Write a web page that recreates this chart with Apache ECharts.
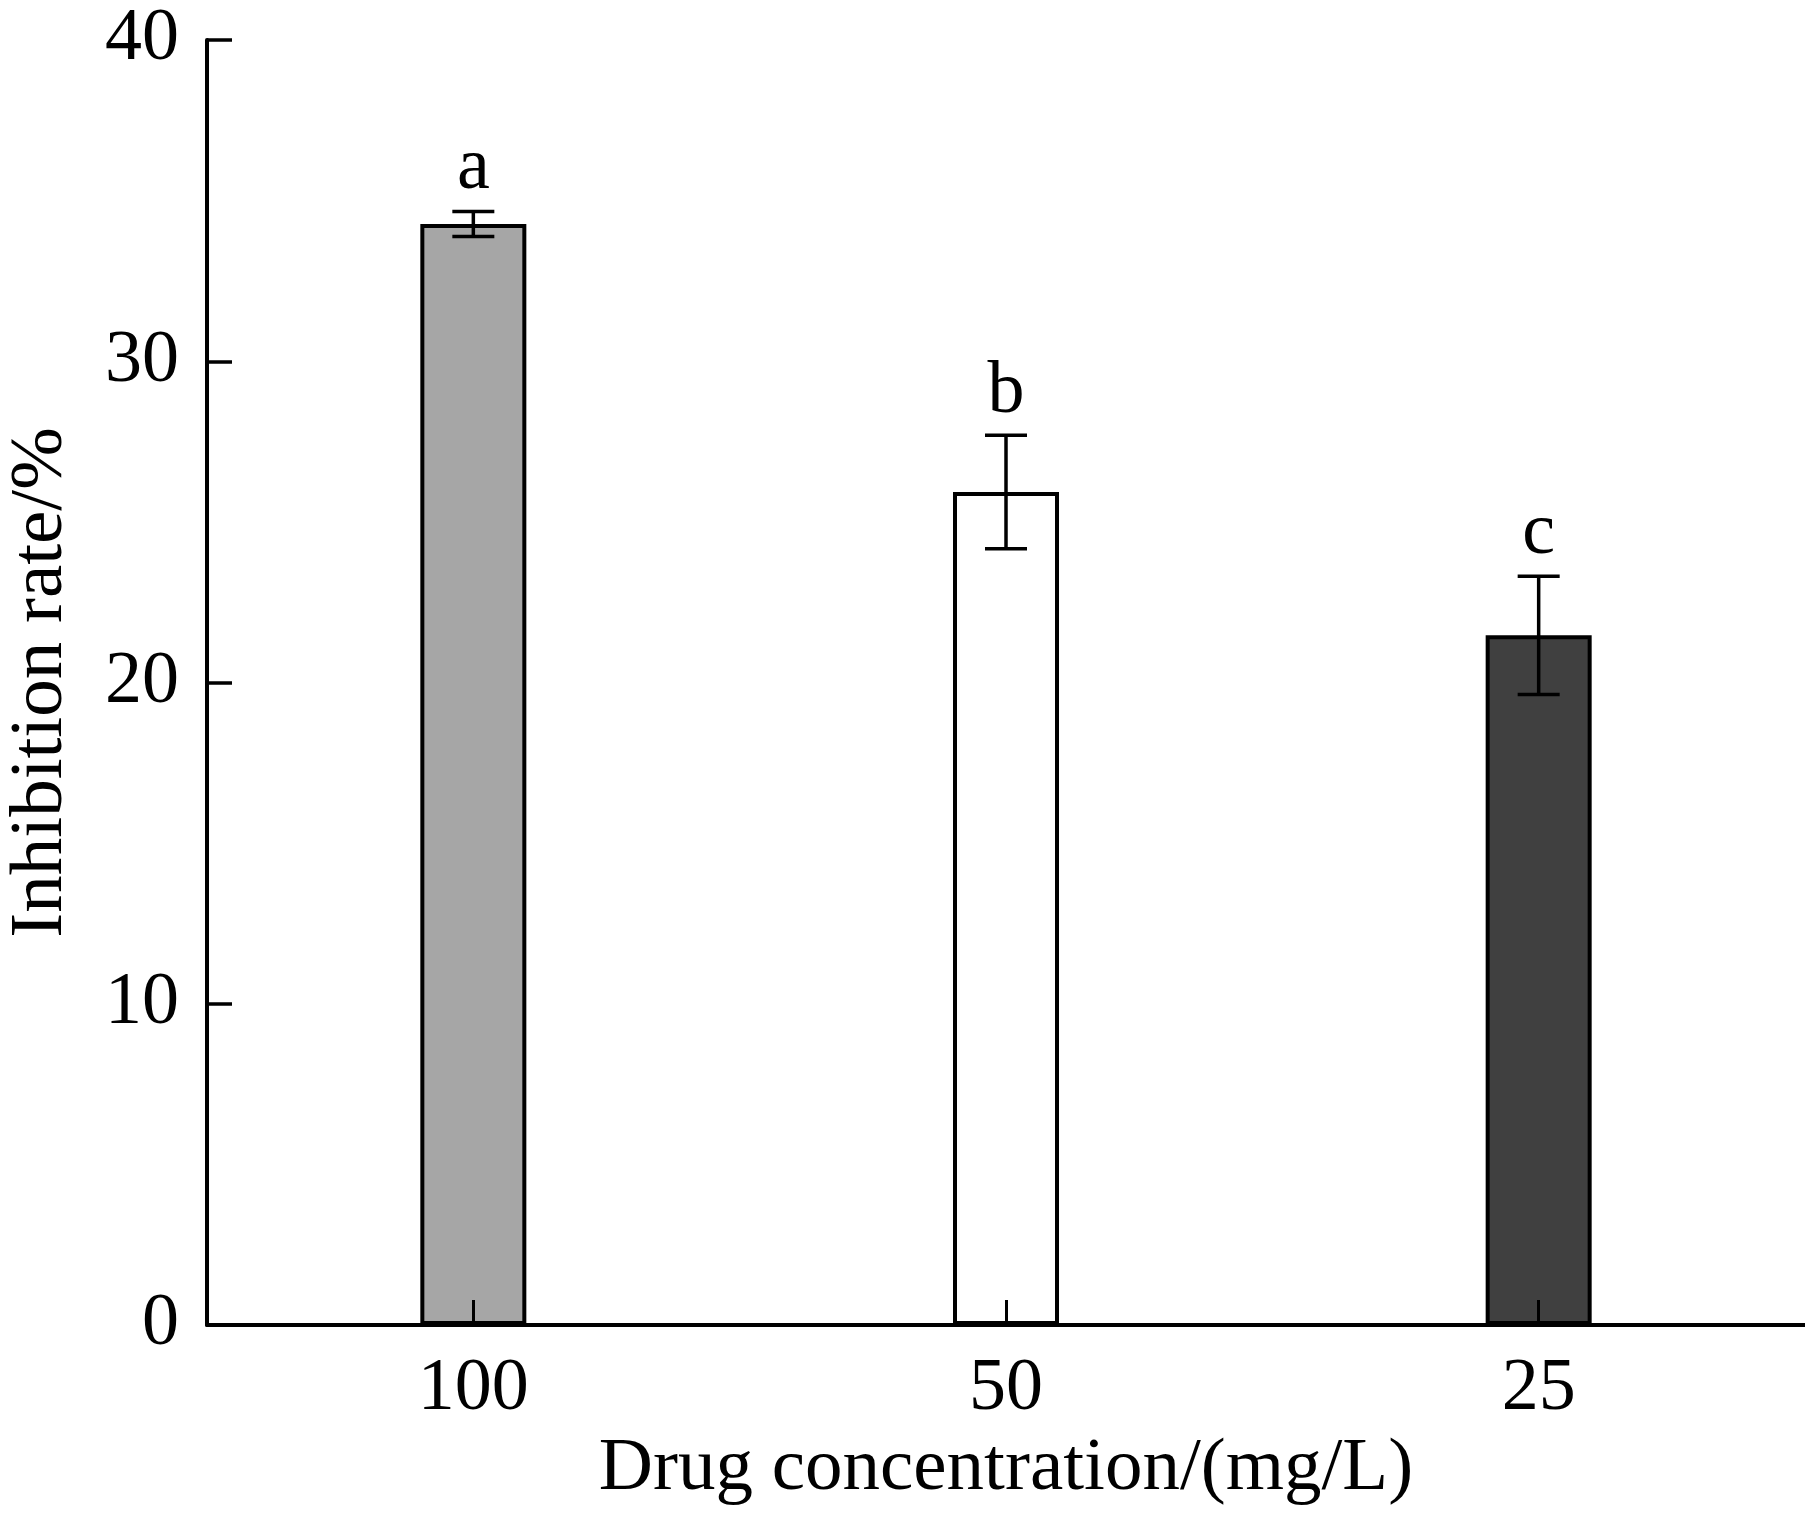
<!DOCTYPE html>
<html>
<head>
<meta charset="utf-8">
<script src="https://cdn.jsdelivr.net/npm/echarts@6/dist/echarts.min.js"></script>
<style>
html,body{margin:0;padding:0;background:#fff;}
#main{width:1805px;height:1514px;}
</style>
</head>
<body>
<div id="main"></div>
<script>
var categories = ['100', '50', '25'];
var means = [34.27, 25.93, 21.47];
var errs = [0.39, 1.77, 1.84];
var letters = ['a', 'b', 'c'];
var barColors = ['#a6a6a6', '#ffffff', '#404040'];
var yTicks = [0, 10, 20, 30, 40];

var fontName = '"Liberation Serif", "Times New Roman", serif';

var barData = [];
var errData = [];
for (var i = 0; i < categories.length; i++) {
	barData.push({value: means[i], itemStyle: {color: barColors[i]}});
	errData.push([i, means[i] - errs[i], means[i] + errs[i], letters[i]]);
}

//error bar + letter above it
function renderErr(params, api) {
	var lo = api.coord([api.value(0), api.value(1)]);
	var hi = api.coord([api.value(0), api.value(2)]);
	var half = 21;
	var st = {stroke: '#000', lineWidth: 3.5};
	return {
		type: 'group',
		children: [
			{type: 'line', shape: {x1: lo[0], y1: lo[1], x2: hi[0], y2: hi[1]}, style: st},
			{type: 'line', shape: {x1: hi[0] - half, y1: hi[1], x2: hi[0] + half, y2: hi[1]}, style: st},
			{type: 'line', shape: {x1: lo[0] - half, y1: lo[1], x2: lo[0] + half, y2: lo[1]}, style: st},
			{type: 'text', style: {
				text: letters[params.dataIndex], x: hi[0], y: hi[1] - 6,
				fill: '#000', font: '74px ' + fontName,
				textAlign: 'center', verticalAlign: 'bottom', textVerticalAlign: 'bottom'
			}}
		]
	};
}

var myChart = echarts.init(document.getElementById('main'));
myChart.setOption({
	backgroundColor: '#fff',
	animation: false,
	grid: {left: 207, right: 0, top: 40, bottom: 189, containLabel: false, outerBoundsMode: 'none'},
	xAxis: {
		type: 'category',
		data: categories,
		zlevel: 1,
		z: 10,
		name: 'Drug concentration/(mg/L)',
		nameLocation: 'middle',
		nameGap: 100,
		nameTextStyle: {fontFamily: fontName, fontSize: 75, color: '#000'},
		axisLine: {lineStyle: {color: '#000', width: 4}},
		axisTick: {show: true, inside: true, alignWithLabel: true, length: 25, lineStyle: {color: '#000', width: 3}},
		axisLabel: {margin: 28, fontFamily: fontName, fontSize: 74, color: '#000'},
		splitLine: {show: false}
	},
	yAxis: {
		type: 'value',
		min: yTicks[0],
		max: yTicks[yTicks.length - 1],
		interval: 10,
		name: 'Inhibition rate/%',
		nameLocation: 'middle',
		nameGap: 128,
		nameTextStyle: {fontFamily: fontName, fontSize: 75, color: '#000'},
		axisLine: {show: true, lineStyle: {color: '#000', width: 4}},
		axisTick: {show: true, inside: true, length: 25, lineStyle: {color: '#000', width: 3.5}},
		axisLabel: {margin: 28, fontFamily: fontName, fontSize: 74, color: '#000'},
		splitLine: {show: false}
	},
	series: [
		{
			type: 'bar',
			data: barData,
			barWidth: 106,
			itemStyle: {borderColor: '#000', borderWidth: 4},
			z: 2
		},
		{
			type: 'custom',
			data: errData,
			renderItem: renderErr,
			encode: {x: 0, y: [1, 2]},
			z: 5
		}
	]
});
</script>
</body>
</html>
